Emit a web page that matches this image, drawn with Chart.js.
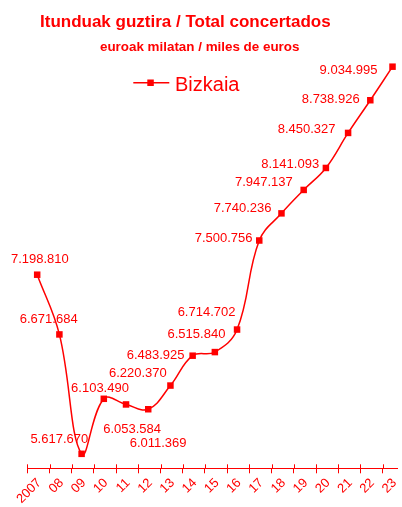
<!DOCTYPE html>
<html>
<head>
<meta charset="utf-8">
<script src="https://cdn.jsdelivr.net/npm/chart.js@4.4.1/dist/chart.umd.min.js"></script>
<style>
html,body{margin:0;padding:0;background:#ffffff;overflow:hidden;}
#wrap{width:402px;height:507px;position:relative;}
canvas{display:block;}
</style>
</head>
<body>
<div id="wrap"><canvas id="c" width="402" height="507"></canvas></div>
<script>
// ---- data ----
const categories = ['2007','08','09','10','11','12','13','14','15','16','17','18','19','20','21','22','23'];
const values = [7198810, 6671684, 5617670, 6103490, 6053584, 6011369, 6220370, 6483925, 6515840, 6714702, 7500756, 7740236, 7947137, 8141093, 8450327, 8738926, 9034995];
const seriesName = 'Bizkaia';
const titleText = 'Itunduak guztira / Total concertados';
const subtitleText = 'euroak milatan / miles de euros';

// ---- label placement (relative to each point, in px) ----
const labelOffsets = [
  [2.7,-16.8],[-10.7,-16.3],[-22.3,-15.9],[-3.8,-11.5],[6.1,23.5],[9.9,33.1],
  [-32.6,-12.9],[-37,-0.8],[-18.4,-18.6],[-30.5,-18],[-35.7,-3],[-38.9,-5.8],
  [-39.8,-8.2],[-35.7,-5],[-41.5,-4.3],[-39.6,-2.2],[-44,3]
];

const RED = '#ff0000';
const FONT = '"Liberation Sans", Arial, Helvetica, sans-serif';
const TICK_SHIFT = 0.445;

function fmt(v) {
  return String(v).replace(/\B(?=(\d{3})+(?!\d))/g, '.');
}

const decorPlugin = {
  id: 'decor',
  afterDraw(chart) {
    const ctx = chart.ctx;
    ctx.save();
    // tick marks crossing above the axis line
    const xs = chart.scales.x;
    ctx.strokeStyle = RED;
    ctx.lineWidth = 1;
    xs.ticks.forEach((t, i) => {
      const px = Math.round(xs.getPixelForValue(t.value)) + 0.5;
      ctx.beginPath();
      ctx.moveTo(px, xs.top - 4);
      ctx.lineTo(px, xs.top);
      ctx.stroke();
    });
    // title + subtitle
    ctx.fillStyle = RED;
    ctx.textAlign = 'center';
    ctx.textBaseline = 'alphabetic';
    ctx.font = 'bold 17px ' + FONT;
    ctx.fillText(titleText, 185.3, 27.3);
    ctx.font = 'bold 13.4px ' + FONT;
    ctx.fillText(subtitleText, 199.7, 50.7);
    // legend
    ctx.lineWidth = 1.5;
    ctx.beginPath();
    ctx.moveTo(133.3, 82.7);
    ctx.lineTo(169.3, 82.7);
    ctx.stroke();
    ctx.fillRect(147.3, 79.5, 6.5, 6.5);
    ctx.textAlign = 'left';
    ctx.font = '20px ' + FONT;
    ctx.fillText(seriesName, 175, 90.7);
    // data labels
    ctx.textAlign = 'center';
    ctx.font = '13px ' + FONT;
    const meta = chart.getDatasetMeta(0);
    meta.data.forEach((pt, i) => {
      const off = labelOffsets[i];
      ctx.fillText(fmt(values[i]), pt.x + off[0], pt.y + off[1] + 4.6);
    });
    ctx.restore();
  }
};

new Chart(document.getElementById('c'), {
  type: 'line',
  data: {
    datasets: [{
      label: seriesName,
      data: values.map((v, i) => ({ x: i, y: v })),
      borderColor: RED,
      backgroundColor: RED,
      borderWidth: 1.5,
      tension: 0.4,
      pointStyle: 'rect',
      pointRadius: 4.6,
      pointBorderWidth: 0,
      pointBackgroundColor: RED,
      pointBorderColor: RED,
      clip: false
    }]
  },
  options: {
    responsive: false,
    animation: false,
    devicePixelRatio: 1,
    layout: { padding: { left: 27.3, right: 0, top: 60, bottom: 0 } },
    plugins: {
      legend: { display: false },
      title: { display: false },
      tooltip: { enabled: false }
    },
    scales: {
      x: {
        type: 'linear',
        bounds: 'data',
        min: -TICK_SHIFT,
        max: 16.22,
        afterBuildTicks: (s) => { s.ticks = categories.map((c, i) => ({ value: i - TICK_SHIFT })); },
        afterFit: (s) => { s.height = 38.7; },
        ticks: {
          autoSkip: false,
          minRotation: 45,
          maxRotation: 45,
          color: RED,
          font: { family: FONT, size: 13 },
          padding: 2,
          labelOffset: 12,
          callback: (v, i) => categories[i]
        },
        grid: { drawOnChartArea: false, color: RED, tickLength: 5, lineWidth: 1 },
        border: { color: RED, width: 1 }
      },
      y: {
        display: false,
        min: 5490000,
        max: 9094000
      }
    }
  },
  plugins: [decorPlugin]
});
</script>
</body>
</html>
